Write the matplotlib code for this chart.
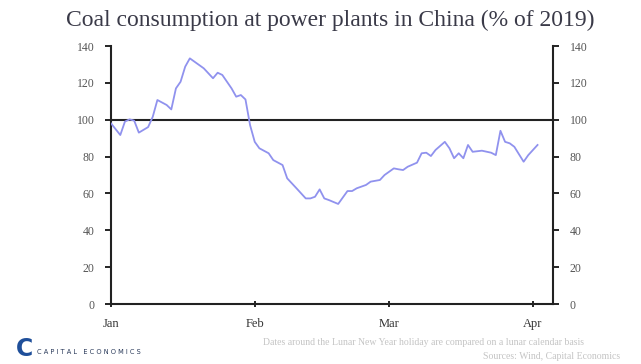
import numpy as np
import pandas as pd
import matplotlib
matplotlib.use("Agg")
from matplotlib import pyplot as plt

# days since 1 Jan 2020 and coal use as % of the 2019 level
day_offsets = [0, 2, 3, 4, 5, 6, 8, 9, 10, 12, 13, 14, 15, 16, 17, 20, 22, 23, 24,
               26, 27, 28, 29, 30, 31, 32, 34, 35, 37, 38, 40, 42, 43, 44, 45, 46,
               47, 49, 51, 52, 53, 55, 56, 58, 59, 60, 61, 62, 63, 64, 66, 67, 68,
               69, 70, 72, 73, 74, 75, 76, 77, 78, 80, 82, 83, 84, 85, 86, 87, 89,
               90, 92]
coal_pct = [98, 91.7, 99, 100.2, 99.5, 93, 96, 101.6, 110.7, 108, 105.6, 117, 120.6,
            128.8, 133.3, 127.9, 122.5, 125.5, 124.3, 117, 112.5, 113.4, 111, 97, 88,
            84.5, 81.8, 78.1, 75.4, 68.2, 62.8, 57.3, 57.3, 58.2, 62.2, 57.3, 56.4,
            54.3, 61.3, 61.3, 62.8, 64.6, 66.4, 67.3, 70, 71.8, 73.6, 73.1, 72.7, 74.5,
            76.7, 81.8, 82.1, 80.3, 83.6, 88, 84.5, 79.1, 81.8, 79.1, 86.3, 82.6, 83.2,
            82.1, 80.8, 94, 88, 87.2, 85.3, 77.2, 80.8, 86.3]

month_labels = ["Jan", "Feb", "Mar", "Apr"]
y_ticks = [0, 20, 40, 60, 80, 100, 120, 140]

start = pd.Timestamp("2020-01-01")
dates = start + pd.to_timedelta(day_offsets, unit="D")
month_starts = pd.date_range("2020-01-01", periods=4, freq="MS")

serif = "Liberation Serif"
tick_grey = "#555555"

fig = plt.figure(figsize=(6.41, 3.64), dpi=100)
ax = fig.add_axes([0.1732, 0.1648, 0.6895, 0.7088])

ax.plot(dates, coal_pct, color="#9092ee", lw=1.3, zorder=3)
ax.axhline(100, color="#222222", lw=1.5, zorder=2)

ax.set_ylim(0, 140)
ax.set_xlim(start, pd.Timestamp("2020-04-05 08:00"))
ax.set_yticks(y_ticks)
ax.set_xticks(month_starts)
ax.set_xticklabels(month_labels)

for side in ["left", "right", "bottom"]:
    ax.spines[side].set_linewidth(1.5)
    ax.spines[side].set_color("#222222")
ax.spines["top"].set_visible(False)

ax.tick_params(axis="y", direction="out", length=4, width=1.2,
               left=True, right=True, labelleft=True, labelright=True,
               labelsize=8.5, labelcolor=tick_grey, pad=8)
ax.tick_params(axis="x", direction="inout", length=4, width=1.2,
               labelsize=9, labelcolor="#333333", pad=8)
for lab in ax.get_xticklabels():
    lab.set_fontfamily(serif)
for t in ax.yaxis.get_major_ticks():
    t.label1.set_fontfamily(serif)
    t.label2.set_fontfamily(serif)

fig.text(0.515, 0.945, "Coal consumption at power plants in China (% of 2019)",
         ha="center", va="center", fontsize=17, family=serif, color="#3a3a48")

# footer notes
fig.text(0.41, 0.058,
         "Dates around the Lunar New Year holiday are compared on a lunar calendar basis",
         ha="left", va="center", fontsize=7, family=serif, color="#c4c4c4")
fig.text(0.753, 0.02, "Sources: Wind, Capital Economics",
         ha="left", va="center", fontsize=7, family=serif, color="#c4c4c4")

# logo
fig.text(0.024, 0.04, "C", ha="left", va="center", fontsize=17, fontweight="bold",
         family="DejaVu Sans", color="#1f4f9a")
fig.text(0.058, 0.033, "C A P I T A L   E C O N O M I C S", ha="left", va="center",
         fontsize=4.8, family="DejaVu Sans", color="#2a3a5a")

fig.savefig("out.png", dpi=100, facecolor="white")
